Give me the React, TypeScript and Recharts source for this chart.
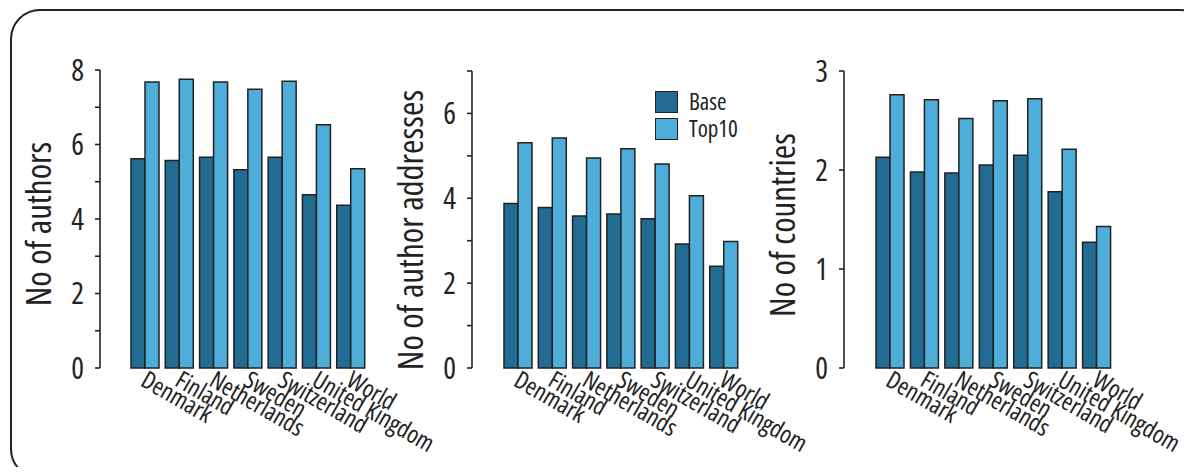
import { BarChart, Bar, XAxis, YAxis, Legend, Label } from 'recharts';

const FONT = "'Open Sans', sans-serif";
const INK = '#222222';
const BASE_COLOR = '#226b93';
const TOP10_COLOR = '#4fadda';

const countries = ['Denmark', 'Finland', 'Netherlands', 'Sweden', 'Switzerland', 'United Kingdom', 'World'];

const authorsBase = [5.62, 5.57, 5.66, 5.32, 5.66, 4.65, 4.37];
const authorsTop10 = [7.68, 7.75, 7.68, 7.48, 7.7, 6.53, 5.35];

const addressesBase = [3.88, 3.78, 3.58, 3.63, 3.52, 2.92, 2.4];
const addressesTop10 = [5.31, 5.42, 4.95, 5.17, 4.81, 4.06, 2.98];

const countryCountBase = [2.13, 1.98, 1.97, 2.05, 2.15, 1.78, 1.27];
const countryCountTop10 = [2.76, 2.71, 2.52, 2.7, 2.72, 2.21, 1.43];

const authorTicks = [0, 1, 2, 3, 4, 5, 6, 7, 8];
const addressTicks = [0, 1, 2, 3, 4, 5, 6, 7];
const countryTicks = [0, 1, 2, 3];

const toRows = (base: number[], top10: number[]) =>
  countries.map((name, i) => ({ name, base: base[i], top10: top10[i] }));

const textStyle = { fontFamily: FONT, fontStretch: 'condensed', fontWeight: 500 } as const;

// y tick: labels only on every `step`-th value, minor ticks keep just the tick line
const YTick = ({ x, y, payload, step }: any) => {
  if (payload.value % step !== 0) return <g />;
  return (
    <text
      x={x}
      y={y}
      dy={10.5}
      textAnchor="end"
      style={{ ...textStyle, fontStretch: 'semi-condensed' }}
      fontSize={30}
      fill={INK}
    >
      {payload.value}
    </text>
  );
};

// slanted country names hanging below each group
const XTick = ({ x, y, payload }: any) => {
  const tx = x - 6;
  const ty = y + 17;
  return (
    <text x={tx} y={ty} transform={`rotate(30 ${tx} ${ty})`} style={textStyle} fontSize={24.5} fill={INK}>
      {payload.value}
    </text>
  );
};

const LegendBox = ({ payload }: any) => (
  <div style={{ ...textStyle, fontSize: 23, lineHeight: 1, color: INK }}>
    {(payload || []).map((p: any) => (
      <div key={p.value} style={{ display: 'flex', alignItems: 'center', height: 27 }}>
        <span
          style={{
            display: 'inline-block',
            width: 21,
            height: 20,
            background: p.color,
            border: `1.5px solid ${INK}`,
            marginRight: 11,
          }}
        />
        <span>{p.value}</span>
      </div>
    ))}
  </div>
);

interface PanelProps {
  left: number;
  width: number;
  top: number;
  right: number;
  padLeft: number;
  rows: { name: string; base: number; top10: number }[];
  max: number;
  ticks: number[];
  step: number;
  title: string;
  titleY: number;
  legend?: boolean;
}

function Panel({ left, width, top, right, padLeft, rows, max, ticks, step, title, titleY, legend }: PanelProps) {
  return (
    <div style={{ position: 'absolute', left, top: 0 }}>
      <BarChart
        width={width}
        height={475}
        data={rows}
        margin={{ top, right, left: 40, bottom: 67 }}
        barSize={14}
        barGap={0}
      >
        <XAxis
          dataKey="name"
          height={40}
          axisLine={false}
          tickLine={false}
          tickSize={0}
          tickMargin={0}
          interval={0}
          padding={{ left: padLeft, right: 0 }}
          tick={<XTick />}
        />
        <YAxis
          width={60}
          domain={[0, max]}
          ticks={ticks}
          allowDecimals={false}
          stroke={INK}
          strokeWidth={1.6}
          tickSize={5}
          tickMargin={11}
          tickLine={{ stroke: INK, strokeWidth: 1.6 }}
          tick={<YTick step={step} />}
        >
          <Label
            content={() => (
              <text
                x={51}
                y={titleY}
                transform={`rotate(-90 51 ${titleY})`}
                textAnchor="middle"
                style={textStyle}
                fontSize={35}
                fill={INK}
              >
                {title}
              </text>
            )}
          />
        </YAxis>
        {legend && (
          <Legend
            layout="vertical"
            align="center"
            verticalAlign="middle"
            content={<LegendBox />}
            wrapperStyle={{ left: 283, top: 88, width: 120, height: 60 }}
          />
        )}
        <Bar dataKey="base" name="Base" fill={BASE_COLOR} stroke={INK} strokeWidth={1.5} isAnimationActive={false} />
        <Bar dataKey="top10" name="Top10" fill={TOP10_COLOR} stroke={INK} strokeWidth={1.5} isAnimationActive={false} />
      </BarChart>
    </div>
  );
}

export default function App() {
  return (
    <div
      style={{
        position: 'relative',
        width: 1192,
        height: 475,
        margin: -8,
        overflow: 'hidden',
        background: '#fff',
      }}
    >
      <div
        style={{
          position: 'absolute',
          left: 10,
          top: 9,
          width: 1200,
          height: 470,
          border: `2.6px solid ${INK}`,
          borderRadius: 30,
          boxSizing: 'border-box',
        }}
      />
      <Panel
        left={0}
        width={470}
        top={70}
        right={102}
        padLeft={28}
        rows={toRows(authorsBase, authorsTop10)}
        max={8}
        ticks={authorTicks}
        step={2}
        title="No of authors"
        titleY={224}
      />
      <Panel
        left={372}
        width={470}
        top={71}
        right={101}
        padLeft={29}
        rows={toRows(addressesBase, addressesTop10)}
        max={7}
        ticks={addressTicks}
        step={2}
        title="No of author addresses"
        titleY={230}
        legend
      />
      <Panel
        left={744}
        width={448}
        top={71}
        right={78}
        padLeft={29}
        rows={toRows(countryCountBase, countryCountTop10)}
        max={3}
        ticks={countryTicks}
        step={1}
        title="No of countries"
        titleY={225}
      />
    </div>
  );
}
